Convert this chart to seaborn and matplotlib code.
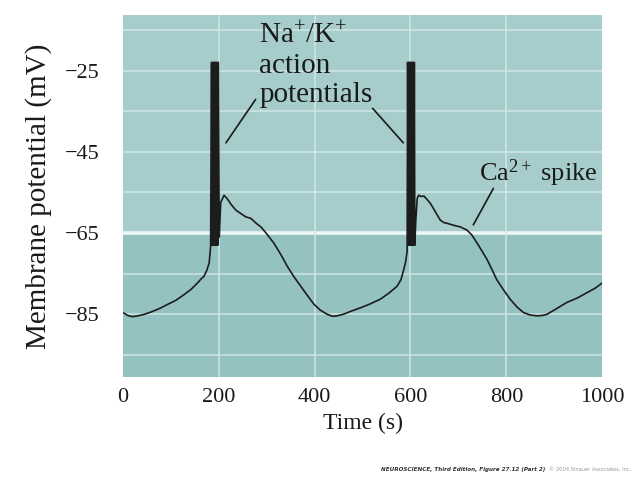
import matplotlib
matplotlib.use("Agg")
import matplotlib.pyplot as plt
import seaborn as sns
import pandas as pd

# ---- data ----
time_before1 = [0, 3, 10, 20, 31, 45, 60, 78, 93, 110, 125, 142, 155, 164, 169, 175, 180, 183]
volt_before1 = [-84.6, -84.8, -85.3, -85.6, -85.4, -85.0, -84.4, -83.5, -82.6, -81.6, -80.4, -78.9, -77.4, -76.2, -75.7, -74.2, -72.4, -68.3]
spike1_time = [185, 186, 187, 188, 189, 190, 191, 192, 193, 194, 195, 196, 197, 198, 199]
spike1_volt = [-23, -68, -23, -68, -23, -68, -23, -68, -23, -68, -23, -68, -23, -68, -23]
time_mid = [201, 204, 208, 211, 218, 226, 236, 246, 256, 267, 278, 288, 300, 315, 330, 343, 357, 371, 385,
            399, 412, 426, 437, 447, 460, 475, 496, 515, 537, 555, 572, 580, 586, 590, 593]
volt_mid = [-66, -57.5, -56.5, -55.7, -56.6, -58.0, -59.4, -60.2, -61.0, -61.4, -62.6, -63.5, -65.2, -67.5, -70.4, -73.2, -75.8, -78.1, -80.4,
            -82.6, -84.0, -85.0, -85.5, -85.4, -85.0, -84.3, -83.4, -82.5, -81.3, -79.8, -78.1, -76.5, -74.0, -72.0, -69.5]
spike2_time = [594, 595, 596, 597, 598, 599, 600, 601, 602, 603, 604, 605, 606, 607, 608, 609]
spike2_volt = [-23, -68, -23, -68, -23, -68, -23, -68, -23, -68, -23, -68, -23, -68, -23, -68]
time_after = [611, 614, 617, 622, 628, 635, 642, 652, 662, 669, 676, 690, 704, 711, 718, 728, 739, 750, 760, 770,
              780, 794, 808, 822, 836, 850, 864, 875, 885, 905, 926, 948, 968, 985, 1000]
volt_after = [-62, -56.5, -55.7, -56.0, -55.9, -56.8, -57.8, -59.8, -61.8, -62.4, -62.6, -63.1, -63.5, -63.9, -64.3, -65.5, -67.5, -69.6, -71.6, -74.0,
              -76.5, -79.0, -81.3, -83.2, -84.6, -85.2, -85.4, -85.3, -85.0, -83.6, -82.1, -81.0, -79.7, -78.6, -77.3]

time_s = time_before1 + spike1_time + time_mid + spike2_time + time_after
potential_mv = volt_before1 + spike1_volt + volt_mid + spike2_volt + volt_after

x_ticks = [0, 200, 400, 600, 800, 1000]
y_ticks = [-85, -65, -45, -25]
y_minor = [-95, -75, -55, -35, -15]

df = pd.DataFrame({"Time (s)": time_s, "Membrane potential (mV)": potential_mv})

sns.set_style("white")
plt.rcParams["font.family"] = ["Liberation Serif", "DejaVu Serif"]
plt.rcParams["mathtext.fontset"] = "custom"
plt.rcParams["mathtext.rm"] = "Liberation Serif"
plt.rcParams["mathtext.it"] = "Liberation Serif:italic"

fig = plt.figure(figsize=(6.4, 4.8), dpi=100)
ax = fig.add_axes([0.192, 0.215, 0.749, 0.754])

upper_color = "#A6CDCB"
lower_color = "#94C2C0"
grid_color = "#CFE6E4"
ax.set_facecolor(upper_color)
ax.axhspan(-101, -65, color=lower_color, zorder=0, lw=0)

for y in y_ticks + y_minor:
    ax.axhline(y, color=grid_color, lw=1.1, zorder=1)
ax.axhline(-65, color="#EEF7F6", lw=2.6, zorder=1)
for x in x_ticks[1:-1]:
    ax.axvline(x, color=grid_color, lw=1.1, zorder=1)

sns.lineplot(data=df, x="Time (s)", y="Membrane potential (mV)", estimator=None, sort=False,
             color="#1c1c1c", lw=1.2, ax=ax, zorder=3)

ax.set_xlim(0, 1000)
ax.set_ylim(-100.4, -11.3)
ax.set_xticks(x_ticks)
ax.set_yticks(y_ticks)
ax.set_yticklabels([str(v).replace("-", "\u2212") for v in y_ticks])
ax.tick_params(axis="both", length=0, labelsize=16, colors="#1a1a1a")
ax.tick_params(axis="y", pad=17)
ax.tick_params(axis="x", pad=8)
for s in ax.spines.values():
    s.set_visible(False)

ax.set_xlabel("Time (s)", fontsize=17, color="#1a1a1a", labelpad=4)
ax.set_ylabel("Membrane potential (mV)", fontsize=21, color="#1a1a1a", labelpad=9)

# annotations
ax.text(285, -13.2, "Na$^{+}$/K$^{+}$\naction\npotentials", fontsize=21, color="#1a1a1a",
        ha="left", va="top", linespacing=1.15, zorder=4)
ax.plot([215, 277], [-42.8, -32.1], color="#1a1a1a", lw=1.2, zorder=4)
ax.plot([521, 585], [-34.3, -42.8], color="#1a1a1a", lw=1.2, zorder=4)
ax.text(742, -50.3, "Ca$^{2+}$ spike", fontsize=19, color="#1a1a1a", ha="left", va="center", zorder=4)
ax.plot([773, 731], [-54.0, -63.0], color="#1a1a1a", lw=1.2, zorder=4)

# footer
fig.text(0.852, 0.022, "NEUROSCIENCE, Third Edition, Figure 27.12 (Part 2)", fontsize=4.1,
         family="DejaVu Sans", style="italic", weight="bold", color="#333333", ha="right", va="center")
fig.text(0.858, 0.022, "\u00a9 2004 Sinauer Associates, Inc.", fontsize=3.7,
         family="DejaVu Sans", color="#999999", ha="left", va="center")

fig.savefig("out.png", dpi=100, facecolor="white")
